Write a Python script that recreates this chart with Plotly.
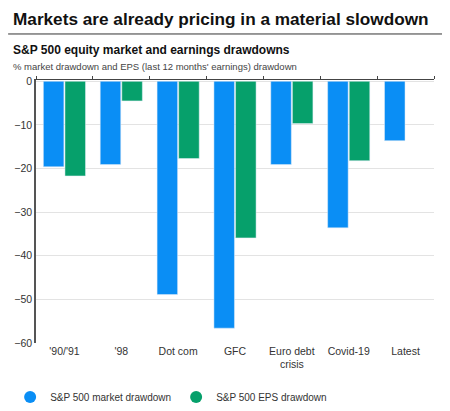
import plotly.graph_objects as go

# data
episodes = ["'90/'91", "'98", "Dot com", "GFC", "Euro debt<br>crisis", "Covid-19", "Latest"]
market_drawdown = [-19.6, -19.1, -48.9, -56.6, -19.1, -33.6, -13.6]
eps_drawdown = [-21.7, -4.5, -17.7, -35.9, -9.7, -18.2, None]

BLUE = "#0a8ef5"
GREEN = "#06a06b"
FONT = "Liberation Sans, Arial, sans-serif"

fig = go.Figure()
fig.add_trace(go.Bar(x=episodes, y=market_drawdown, name="S&P 500 market drawdown",
                     marker=dict(color=BLUE), showlegend=False))
fig.add_trace(go.Bar(x=episodes, y=eps_drawdown, name="S&P 500 EPS drawdown",
                     marker=dict(color=GREEN), showlegend=False))
# legend entries with round markers, like the original
for name, col in [("S&P 500 market drawdown", BLUE), ("S&P 500 EPS drawdown", GREEN)]:
    fig.add_trace(go.Scatter(x=[episodes[0]], y=[None], mode="markers", name=name,
                             marker=dict(color=col, size=12, symbol="circle")))
# invisible trace so the top axis (at zero) gets the category ticks
fig.add_trace(go.Scatter(x=episodes, y=[None] * len(episodes), xaxis="x2",
                         showlegend=False, hoverinfo="skip"))

fig.update_layout(
    width=450, height=411,
    paper_bgcolor="white", plot_bgcolor="white",
    font=dict(family=FONT, size=10, color="#333333"),
    barmode="group", bargap=0.24, bargroupgap=0.05,
    margin=dict(l=28, r=24, t=72, b=76, autoexpand=False),
    xaxis=dict(type="category", showgrid=False, showline=False, ticks="",
               tickfont=dict(size=10.5, color="#333333")),
    xaxis2=dict(type="category", overlaying="x", side="top", anchor="y",
                matches="x", showticklabels=False, showgrid=False,
                showline=True, linecolor="#444444", linewidth=1,
                ticks="outside", ticklen=3, tickcolor="#444444",
                tickson="boundaries"),
    yaxis=dict(range=[-60, 0.3], dtick=10, showline=True, linecolor="#555555",
               linewidth=1.5, gridcolor="#e3e3e3", zeroline=False,
               ticks="", tickfont=dict(size=10.5, color="#333333")),
    legend=dict(orientation="h", x=-0.065, xanchor="left", y=-0.205, yanchor="middle",
                font=dict(size=10, color="#333333"), itemwidth=30,
                traceorder="normal"),
    annotations=[
        dict(text="<b>Markets are already pricing in a material slowdown</b>",
             xref="paper", yref="paper", x=-0.06, y=1.272, xanchor="left",
             yanchor="top", borderpad=0, showarrow=False,
             font=dict(size=17.2, color="#111111")),
        dict(text="<b>S&P 500 equity market and earnings drawdowns</b>",
             xref="paper", yref="paper", x=-0.062, y=1.114, xanchor="left",
             yanchor="middle", showarrow=False, font=dict(size=12, color="#111111")),
        dict(text="% market drawdown and EPS (last 12 months' earnings) drawdown",
             xref="paper", yref="paper", x=-0.062, y=1.053, xanchor="left",
             yanchor="middle", showarrow=False, font=dict(size=9.5, color="#444444")),
    ],
    shapes=[
        dict(type="line", xref="paper", yref="paper", x0=-0.07, x1=1.03,
             y0=1.175, y1=1.175, line=dict(color="#333333", width=1)),
        dict(type="line", xref="paper", yref="paper", x0=1.03, x1=1.03,
             y0=1.145, y1=-0.217, line=dict(color="#333333", width=1)),
    ],
)

fig.write_html("out.html")
